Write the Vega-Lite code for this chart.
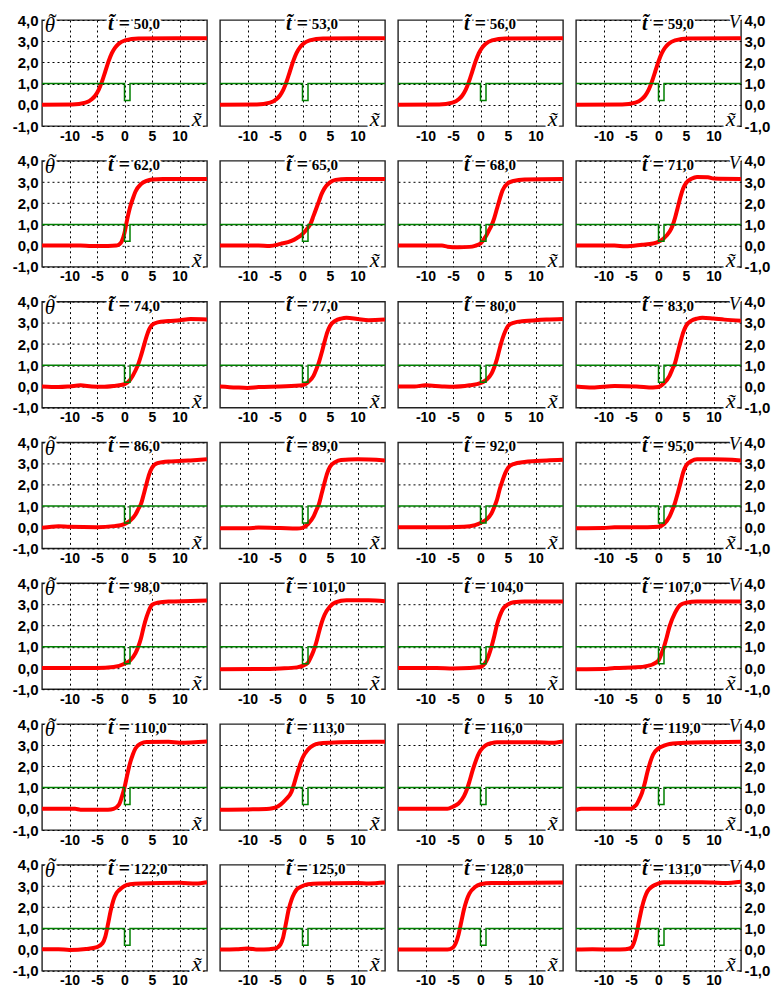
{
  "$schema": "https://vega.github.io/schema/vega-lite/v6.json",
  "background": "white",
  "padding": {"left": 12, "top": 9, "right": 5, "bottom": 0},
  "config": {
    "locale": {"number": {"decimal": ",", "thousands": " ", "grouping": [3], "currency": ["", ""], "minus": "-"}},
    "view": {"stroke": "#222222", "strokeWidth": 1.4},
    "axis": {
      "grid": true, "gridColor": "#000000", "gridDash": [2, 3], "gridWidth": 1, "gridOpacity": 1,
      "domain": false, "ticks": false, "title": null, "labelOverlap": false, "labelFlush": false, "tickCount": 12,
      "labelFont": "Liberation Sans", "labelFontWeight": "bold", "labelFontSize": 14, "labelColor": "#000000"
    }
  },
  "datasets": {
    "profiles": [
      {"t":50,"s":"theta","x":-15,"y":0},{"t":50,"s":"theta","x":-9.5,"y":0.01},{"t":50,"s":"theta","x":-7.1,"y":0.1},{"t":50,"s":"theta","x":-5.9,"y":0.27},{"t":50,"s":"theta","x":-5.3,"y":0.44},{"t":50,"s":"theta","x":-4.7,"y":0.7},{"t":50,"s":"theta","x":-4.1,"y":1.09},{"t":50,"s":"theta","x":-3.5,"y":1.57},{"t":50,"s":"theta","x":-2.9,"y":2.05},{"t":50,"s":"theta","x":-2.3,"y":2.44},{"t":50,"s":"theta","x":-1.7,"y":2.7},{"t":50,"s":"theta","x":-1.1,"y":2.87},{"t":50,"s":"theta","x":0.1,"y":3.04},{"t":50,"s":"theta","x":2.5,"y":3.13},{"t":50,"s":"theta","x":15,"y":3.14},
      {"t":53,"s":"theta","x":-15,"y":0},{"t":53,"s":"theta","x":-8.3,"y":0.01},{"t":53,"s":"theta","x":-5.9,"y":0.1},{"t":53,"s":"theta","x":-4.7,"y":0.27},{"t":53,"s":"theta","x":-4.1,"y":0.44},{"t":53,"s":"theta","x":-3.5,"y":0.7},{"t":53,"s":"theta","x":-2.9,"y":1.09},{"t":53,"s":"theta","x":-2.3,"y":1.57},{"t":53,"s":"theta","x":-1.7,"y":2.05},{"t":53,"s":"theta","x":-1.1,"y":2.44},{"t":53,"s":"theta","x":-0.5,"y":2.7},{"t":53,"s":"theta","x":0.1,"y":2.87},{"t":53,"s":"theta","x":1.3,"y":3.04},{"t":53,"s":"theta","x":3.7,"y":3.13},{"t":53,"s":"theta","x":15,"y":3.14},
      {"t":56,"s":"theta","x":-15,"y":0},{"t":56,"s":"theta","x":-7.5,"y":0.01},{"t":56,"s":"theta","x":-5.1,"y":0.1},{"t":56,"s":"theta","x":-3.9,"y":0.27},{"t":56,"s":"theta","x":-3.3,"y":0.44},{"t":56,"s":"theta","x":-2.7,"y":0.7},{"t":56,"s":"theta","x":-2.1,"y":1.09},{"t":56,"s":"theta","x":-1.5,"y":1.57},{"t":56,"s":"theta","x":-0.9,"y":2.05},{"t":56,"s":"theta","x":-0.3,"y":2.44},{"t":56,"s":"theta","x":0.3,"y":2.7},{"t":56,"s":"theta","x":0.9,"y":2.87},{"t":56,"s":"theta","x":2.1,"y":3.04},{"t":56,"s":"theta","x":4.5,"y":3.13},{"t":56,"s":"theta","x":15,"y":3.14},
      {"t":59,"s":"theta","x":-15,"y":0},{"t":59,"s":"theta","x":-6.6,"y":0.01},{"t":59,"s":"theta","x":-4.2,"y":0.1},{"t":59,"s":"theta","x":-3.0,"y":0.27},{"t":59,"s":"theta","x":-2.4,"y":0.44},{"t":59,"s":"theta","x":-1.8,"y":0.7},{"t":59,"s":"theta","x":-1.2,"y":1.09},{"t":59,"s":"theta","x":-0.6,"y":1.57},{"t":59,"s":"theta","x":0,"y":2.05},{"t":59,"s":"theta","x":0.6,"y":2.44},{"t":59,"s":"theta","x":1.2,"y":2.7},{"t":59,"s":"theta","x":1.8,"y":2.87},{"t":59,"s":"theta","x":3.0,"y":3.04},{"t":59,"s":"theta","x":5.4,"y":3.13},{"t":59,"s":"theta","x":15,"y":3.14},
      {"t":62,"s":"theta","x":-15,"y":0},{"t":62,"s":"theta","x":-8,"y":0},{"t":62,"s":"theta","x":-6,"y":-0.02},{"t":62,"s":"theta","x":-3,"y":-0.02},{"t":62,"s":"theta","x":-1.5,"y":0},{"t":62,"s":"theta","x":-1,"y":0.05},{"t":62,"s":"theta","x":-0.5,"y":0.2},{"t":62,"s":"theta","x":0,"y":0.6},{"t":62,"s":"theta","x":0.5,"y":1.25},{"t":62,"s":"theta","x":1,"y":1.8},{"t":62,"s":"theta","x":1.5,"y":2.2},{"t":62,"s":"theta","x":2,"y":2.55},{"t":62,"s":"theta","x":3,"y":2.9},{"t":62,"s":"theta","x":4,"y":3.05},{"t":62,"s":"theta","x":5,"y":3.12},{"t":62,"s":"theta","x":7,"y":3.14},{"t":62,"s":"theta","x":15,"y":3.14},
      {"t":65,"s":"theta","x":-15,"y":0},{"t":65,"s":"theta","x":-8,"y":0},{"t":65,"s":"theta","x":-6,"y":-0.02},{"t":65,"s":"theta","x":-4,"y":0.08},{"t":65,"s":"theta","x":-2,"y":0.22},{"t":65,"s":"theta","x":-1,"y":0.36},{"t":65,"s":"theta","x":0,"y":0.55},{"t":65,"s":"theta","x":1,"y":0.85},{"t":65,"s":"theta","x":1.5,"y":1.05},{"t":65,"s":"theta","x":2,"y":1.4},{"t":65,"s":"theta","x":2.5,"y":1.75},{"t":65,"s":"theta","x":3,"y":2.1},{"t":65,"s":"theta","x":3.5,"y":2.45},{"t":65,"s":"theta","x":4,"y":2.7},{"t":65,"s":"theta","x":5,"y":2.98},{"t":65,"s":"theta","x":6,"y":3.1},{"t":65,"s":"theta","x":8,"y":3.14},{"t":65,"s":"theta","x":15,"y":3.14},
      {"t":68,"s":"theta","x":-15,"y":0},{"t":68,"s":"theta","x":-7,"y":0},{"t":68,"s":"theta","x":-6,"y":-0.05},{"t":68,"s":"theta","x":-4,"y":-0.08},{"t":68,"s":"theta","x":-2,"y":-0.06},{"t":68,"s":"theta","x":-1,"y":-0.01},{"t":68,"s":"theta","x":0,"y":0.1},{"t":68,"s":"theta","x":1,"y":0.45},{"t":68,"s":"theta","x":1.5,"y":0.7},{"t":68,"s":"theta","x":2,"y":0.95},{"t":68,"s":"theta","x":2.5,"y":1.3},{"t":68,"s":"theta","x":3,"y":1.75},{"t":68,"s":"theta","x":3.5,"y":2.2},{"t":68,"s":"theta","x":4,"y":2.6},{"t":68,"s":"theta","x":5,"y":2.95},{"t":68,"s":"theta","x":6,"y":3.05},{"t":68,"s":"theta","x":8,"y":3.12},{"t":68,"s":"theta","x":15,"y":3.14},
      {"t":71,"s":"theta","x":-15,"y":0},{"t":71,"s":"theta","x":-8,"y":0},{"t":71,"s":"theta","x":-6,"y":-0.03},{"t":71,"s":"theta","x":-3,"y":0.04},{"t":71,"s":"theta","x":-1,"y":0.1},{"t":71,"s":"theta","x":0,"y":0.18},{"t":71,"s":"theta","x":1,"y":0.35},{"t":71,"s":"theta","x":2,"y":0.65},{"t":71,"s":"theta","x":2.5,"y":0.9},{"t":71,"s":"theta","x":3,"y":1.3},{"t":71,"s":"theta","x":3.5,"y":1.8},{"t":71,"s":"theta","x":4,"y":2.3},{"t":71,"s":"theta","x":4.5,"y":2.7},{"t":71,"s":"theta","x":5,"y":2.95},{"t":71,"s":"theta","x":6,"y":3.15},{"t":71,"s":"theta","x":7,"y":3.24},{"t":71,"s":"theta","x":9,"y":3.22},{"t":71,"s":"theta","x":10,"y":3.16},{"t":71,"s":"theta","x":15,"y":3.14},
      {"t":74,"s":"theta","x":-15,"y":0},{"t":74,"s":"theta","x":-12,"y":-0.03},{"t":74,"s":"theta","x":-10,"y":0},{"t":74,"s":"theta","x":-8,"y":0.05},{"t":74,"s":"theta","x":-6,"y":0},{"t":74,"s":"theta","x":-4,"y":-0.02},{"t":74,"s":"theta","x":-2,"y":0.02},{"t":74,"s":"theta","x":0,"y":0.1},{"t":74,"s":"theta","x":1,"y":0.3},{"t":74,"s":"theta","x":2,"y":0.75},{"t":74,"s":"theta","x":2.5,"y":1.05},{"t":74,"s":"theta","x":3,"y":1.45},{"t":74,"s":"theta","x":3.5,"y":1.9},{"t":74,"s":"theta","x":4,"y":2.35},{"t":74,"s":"theta","x":4.5,"y":2.7},{"t":74,"s":"theta","x":5,"y":2.9},{"t":74,"s":"theta","x":6,"y":3.02},{"t":74,"s":"theta","x":8,"y":3.08},{"t":74,"s":"theta","x":10,"y":3.12},{"t":74,"s":"theta","x":12,"y":3.18},{"t":74,"s":"theta","x":15,"y":3.16},
      {"t":77,"s":"theta","x":-15,"y":0},{"t":77,"s":"theta","x":-12,"y":-0.05},{"t":77,"s":"theta","x":-10,"y":-0.07},{"t":77,"s":"theta","x":-8,"y":-0.03},{"t":77,"s":"theta","x":-4,"y":0},{"t":77,"s":"theta","x":0,"y":0.05},{"t":77,"s":"theta","x":1,"y":0.2},{"t":77,"s":"theta","x":2,"y":0.5},{"t":77,"s":"theta","x":2.5,"y":0.8},{"t":77,"s":"theta","x":3,"y":1.15},{"t":77,"s":"theta","x":3.5,"y":1.6},{"t":77,"s":"theta","x":4,"y":2.1},{"t":77,"s":"theta","x":4.5,"y":2.55},{"t":77,"s":"theta","x":5,"y":2.85},{"t":77,"s":"theta","x":6,"y":3.1},{"t":77,"s":"theta","x":7,"y":3.2},{"t":77,"s":"theta","x":8,"y":3.24},{"t":77,"s":"theta","x":10,"y":3.18},{"t":77,"s":"theta","x":12,"y":3.12},{"t":77,"s":"theta","x":15,"y":3.15},
      {"t":80,"s":"theta","x":-15,"y":0},{"t":80,"s":"theta","x":-12,"y":0},{"t":80,"s":"theta","x":-10,"y":0.05},{"t":80,"s":"theta","x":-7,"y":0},{"t":80,"s":"theta","x":-5,"y":-0.02},{"t":80,"s":"theta","x":-2,"y":0.05},{"t":80,"s":"theta","x":0,"y":0.15},{"t":80,"s":"theta","x":1,"y":0.3},{"t":80,"s":"theta","x":2,"y":0.6},{"t":80,"s":"theta","x":2.5,"y":0.9},{"t":80,"s":"theta","x":3,"y":1.3},{"t":80,"s":"theta","x":3.5,"y":1.8},{"t":80,"s":"theta","x":4,"y":2.25},{"t":80,"s":"theta","x":4.5,"y":2.6},{"t":80,"s":"theta","x":5,"y":2.85},{"t":80,"s":"theta","x":6,"y":3.0},{"t":80,"s":"theta","x":8,"y":3.08},{"t":80,"s":"theta","x":10,"y":3.12},{"t":80,"s":"theta","x":12,"y":3.15},{"t":80,"s":"theta","x":15,"y":3.18},
      {"t":83,"s":"theta","x":-15,"y":0},{"t":83,"s":"theta","x":-12,"y":-0.05},{"t":83,"s":"theta","x":-8,"y":0.02},{"t":83,"s":"theta","x":-4,"y":0},{"t":83,"s":"theta","x":-1,"y":-0.05},{"t":83,"s":"theta","x":0,"y":-0.03},{"t":83,"s":"theta","x":1,"y":0.15},{"t":83,"s":"theta","x":2,"y":0.5},{"t":83,"s":"theta","x":2.5,"y":0.8},{"t":83,"s":"theta","x":3,"y":1.1},{"t":83,"s":"theta","x":3.5,"y":1.6},{"t":83,"s":"theta","x":4,"y":2.1},{"t":83,"s":"theta","x":4.5,"y":2.55},{"t":83,"s":"theta","x":5,"y":2.85},{"t":83,"s":"theta","x":6,"y":3.1},{"t":83,"s":"theta","x":7,"y":3.2},{"t":83,"s":"theta","x":8,"y":3.24},{"t":83,"s":"theta","x":10,"y":3.2},{"t":83,"s":"theta","x":12,"y":3.15},{"t":83,"s":"theta","x":15,"y":3.1},
      {"t":86,"s":"theta","x":-15,"y":-0.03},{"t":86,"s":"theta","x":-12,"y":0.05},{"t":86,"s":"theta","x":-10,"y":0.02},{"t":86,"s":"theta","x":-5,"y":0},{"t":86,"s":"theta","x":-2,"y":0.05},{"t":86,"s":"theta","x":0,"y":0.15},{"t":86,"s":"theta","x":1,"y":0.3},{"t":86,"s":"theta","x":2,"y":0.6},{"t":86,"s":"theta","x":2.5,"y":0.85},{"t":86,"s":"theta","x":3,"y":1.1},{"t":86,"s":"theta","x":3.5,"y":1.55},{"t":86,"s":"theta","x":4,"y":2.05},{"t":86,"s":"theta","x":4.5,"y":2.5},{"t":86,"s":"theta","x":5,"y":2.8},{"t":86,"s":"theta","x":6,"y":3.02},{"t":86,"s":"theta","x":8,"y":3.1},{"t":86,"s":"theta","x":10,"y":3.12},{"t":86,"s":"theta","x":12,"y":3.15},{"t":86,"s":"theta","x":15,"y":3.2},
      {"t":89,"s":"theta","x":-15,"y":-0.05},{"t":89,"s":"theta","x":-10,"y":-0.05},{"t":89,"s":"theta","x":-8,"y":-0.02},{"t":89,"s":"theta","x":-4,"y":-0.04},{"t":89,"s":"theta","x":-1,"y":-0.06},{"t":89,"s":"theta","x":0,"y":-0.03},{"t":89,"s":"theta","x":1,"y":0.15},{"t":89,"s":"theta","x":2,"y":0.5},{"t":89,"s":"theta","x":2.5,"y":0.8},{"t":89,"s":"theta","x":3,"y":1.1},{"t":89,"s":"theta","x":3.5,"y":1.6},{"t":89,"s":"theta","x":4,"y":2.1},{"t":89,"s":"theta","x":4.5,"y":2.55},{"t":89,"s":"theta","x":5,"y":2.85},{"t":89,"s":"theta","x":6,"y":3.08},{"t":89,"s":"theta","x":7,"y":3.17},{"t":89,"s":"theta","x":10,"y":3.2},{"t":89,"s":"theta","x":15,"y":3.15},
      {"t":92,"s":"theta","x":-15,"y":0},{"t":92,"s":"theta","x":-6,"y":0},{"t":92,"s":"theta","x":-3,"y":0.02},{"t":92,"s":"theta","x":-1,"y":0.1},{"t":92,"s":"theta","x":0,"y":0.2},{"t":92,"s":"theta","x":1,"y":0.35},{"t":92,"s":"theta","x":2,"y":0.65},{"t":92,"s":"theta","x":2.5,"y":0.95},{"t":92,"s":"theta","x":3,"y":1.3},{"t":92,"s":"theta","x":3.5,"y":1.8},{"t":92,"s":"theta","x":4,"y":2.2},{"t":92,"s":"theta","x":4.5,"y":2.55},{"t":92,"s":"theta","x":5,"y":2.8},{"t":92,"s":"theta","x":6,"y":2.98},{"t":92,"s":"theta","x":8,"y":3.08},{"t":92,"s":"theta","x":10,"y":3.12},{"t":92,"s":"theta","x":12,"y":3.15},{"t":92,"s":"theta","x":15,"y":3.18},
      {"t":95,"s":"theta","x":-15,"y":-0.05},{"t":95,"s":"theta","x":-10,"y":-0.04},{"t":95,"s":"theta","x":-8,"y":0},{"t":95,"s":"theta","x":-2,"y":0},{"t":95,"s":"theta","x":0,"y":0.02},{"t":95,"s":"theta","x":1,"y":0.15},{"t":95,"s":"theta","x":2,"y":0.5},{"t":95,"s":"theta","x":2.5,"y":0.8},{"t":95,"s":"theta","x":3,"y":1.15},{"t":95,"s":"theta","x":3.5,"y":1.6},{"t":95,"s":"theta","x":4,"y":2.1},{"t":95,"s":"theta","x":4.5,"y":2.6},{"t":95,"s":"theta","x":5,"y":2.9},{"t":95,"s":"theta","x":6,"y":3.12},{"t":95,"s":"theta","x":7,"y":3.2},{"t":95,"s":"theta","x":10,"y":3.2},{"t":95,"s":"theta","x":15,"y":3.15},
      {"t":98,"s":"theta","x":-15,"y":0},{"t":98,"s":"theta","x":-5,"y":0},{"t":98,"s":"theta","x":-2,"y":0.05},{"t":98,"s":"theta","x":0,"y":0.2},{"t":98,"s":"theta","x":1,"y":0.35},{"t":98,"s":"theta","x":2,"y":0.7},{"t":98,"s":"theta","x":2.5,"y":1.0},{"t":98,"s":"theta","x":3,"y":1.4},{"t":98,"s":"theta","x":3.5,"y":1.95},{"t":98,"s":"theta","x":4,"y":2.4},{"t":98,"s":"theta","x":4.5,"y":2.75},{"t":98,"s":"theta","x":5,"y":2.98},{"t":98,"s":"theta","x":6,"y":3.08},{"t":98,"s":"theta","x":8,"y":3.14},{"t":98,"s":"theta","x":12,"y":3.16},{"t":98,"s":"theta","x":15,"y":3.18},
      {"t":101,"s":"theta","x":-15,"y":-0.06},{"t":101,"s":"theta","x":-8,"y":-0.05},{"t":101,"s":"theta","x":-4,"y":-0.02},{"t":101,"s":"theta","x":-1,"y":0.03},{"t":101,"s":"theta","x":0,"y":0.1},{"t":101,"s":"theta","x":1,"y":0.25},{"t":101,"s":"theta","x":1.5,"y":0.5},{"t":101,"s":"theta","x":2,"y":0.8},{"t":101,"s":"theta","x":2.5,"y":1.2},{"t":101,"s":"theta","x":3,"y":1.7},{"t":101,"s":"theta","x":3.5,"y":2.15},{"t":101,"s":"theta","x":4,"y":2.5},{"t":101,"s":"theta","x":5,"y":2.9},{"t":101,"s":"theta","x":6,"y":3.1},{"t":101,"s":"theta","x":8,"y":3.2},{"t":101,"s":"theta","x":12,"y":3.2},{"t":101,"s":"theta","x":15,"y":3.15},
      {"t":104,"s":"theta","x":-15,"y":0},{"t":104,"s":"theta","x":-8,"y":0},{"t":104,"s":"theta","x":-5,"y":-0.02},{"t":104,"s":"theta","x":-2,"y":0},{"t":104,"s":"theta","x":0,"y":0.05},{"t":104,"s":"theta","x":1,"y":0.3},{"t":104,"s":"theta","x":1.5,"y":0.6},{"t":104,"s":"theta","x":2,"y":1.0},{"t":104,"s":"theta","x":2.5,"y":1.5},{"t":104,"s":"theta","x":3,"y":2.05},{"t":104,"s":"theta","x":3.5,"y":2.45},{"t":104,"s":"theta","x":4,"y":2.75},{"t":104,"s":"theta","x":5,"y":3.0},{"t":104,"s":"theta","x":6,"y":3.1},{"t":104,"s":"theta","x":8,"y":3.14},{"t":104,"s":"theta","x":15,"y":3.14},
      {"t":107,"s":"theta","x":-15,"y":-0.06},{"t":107,"s":"theta","x":-10,"y":-0.05},{"t":107,"s":"theta","x":-8,"y":0},{"t":107,"s":"theta","x":-4,"y":0.03},{"t":107,"s":"theta","x":-2,"y":0.1},{"t":107,"s":"theta","x":-1,"y":0.18},{"t":107,"s":"theta","x":0,"y":0.35},{"t":107,"s":"theta","x":0.5,"y":0.65},{"t":107,"s":"theta","x":1,"y":1.0},{"t":107,"s":"theta","x":1.5,"y":1.45},{"t":107,"s":"theta","x":2,"y":1.95},{"t":107,"s":"theta","x":3,"y":2.6},{"t":107,"s":"theta","x":4,"y":2.98},{"t":107,"s":"theta","x":5,"y":3.08},{"t":107,"s":"theta","x":7,"y":3.14},{"t":107,"s":"theta","x":15,"y":3.14},
      {"t":110,"s":"theta","x":-15,"y":0},{"t":110,"s":"theta","x":-9,"y":0},{"t":110,"s":"theta","x":-8,"y":-0.04},{"t":110,"s":"theta","x":-3,"y":-0.04},{"t":110,"s":"theta","x":-2,"y":0},{"t":110,"s":"theta","x":-1,"y":0.2},{"t":110,"s":"theta","x":-0.5,"y":0.55},{"t":110,"s":"theta","x":0,"y":1.0},{"t":110,"s":"theta","x":0.5,"y":1.6},{"t":110,"s":"theta","x":1,"y":2.15},{"t":110,"s":"theta","x":1.5,"y":2.55},{"t":110,"s":"theta","x":2,"y":2.85},{"t":110,"s":"theta","x":3,"y":3.08},{"t":110,"s":"theta","x":4,"y":3.15},{"t":110,"s":"theta","x":8,"y":3.16},{"t":110,"s":"theta","x":10,"y":3.12},{"t":110,"s":"theta","x":15,"y":3.18},
      {"t":113,"s":"theta","x":-15,"y":-0.05},{"t":113,"s":"theta","x":-10,"y":-0.03},{"t":113,"s":"theta","x":-6,"y":0},{"t":113,"s":"theta","x":-5,"y":0.05},{"t":113,"s":"theta","x":-4,"y":0.2},{"t":113,"s":"theta","x":-3,"y":0.45},{"t":113,"s":"theta","x":-2,"y":0.8},{"t":113,"s":"theta","x":-1.5,"y":1.2},{"t":113,"s":"theta","x":-1,"y":1.65},{"t":113,"s":"theta","x":-0.5,"y":2.05},{"t":113,"s":"theta","x":0,"y":2.4},{"t":113,"s":"theta","x":1,"y":2.8},{"t":113,"s":"theta","x":2,"y":3.0},{"t":113,"s":"theta","x":3,"y":3.08},{"t":113,"s":"theta","x":5,"y":3.12},{"t":113,"s":"theta","x":10,"y":3.15},{"t":113,"s":"theta","x":15,"y":3.16},
      {"t":116,"s":"theta","x":-15,"y":0},{"t":116,"s":"theta","x":-6,"y":0},{"t":116,"s":"theta","x":-5,"y":0.1},{"t":116,"s":"theta","x":-4,"y":0.25},{"t":116,"s":"theta","x":-3,"y":0.6},{"t":116,"s":"theta","x":-2.5,"y":0.9},{"t":116,"s":"theta","x":-2,"y":1.3},{"t":116,"s":"theta","x":-1.5,"y":1.75},{"t":116,"s":"theta","x":-1,"y":2.15},{"t":116,"s":"theta","x":-0.5,"y":2.5},{"t":116,"s":"theta","x":0,"y":2.75},{"t":116,"s":"theta","x":1,"y":3.0},{"t":116,"s":"theta","x":2,"y":3.1},{"t":116,"s":"theta","x":3,"y":3.14},{"t":116,"s":"theta","x":10,"y":3.14},{"t":116,"s":"theta","x":13,"y":3.12},{"t":116,"s":"theta","x":15,"y":3.18},
      {"t":119,"s":"theta","x":-15,"y":-0.06},{"t":119,"s":"theta","x":-14,"y":0},{"t":119,"s":"theta","x":-5,"y":0},{"t":119,"s":"theta","x":-4.5,"y":0.08},{"t":119,"s":"theta","x":-4,"y":0.2},{"t":119,"s":"theta","x":-3.5,"y":0.45},{"t":119,"s":"theta","x":-3,"y":0.75},{"t":119,"s":"theta","x":-2.5,"y":1.2},{"t":119,"s":"theta","x":-2,"y":1.75},{"t":119,"s":"theta","x":-1.5,"y":2.2},{"t":119,"s":"theta","x":-1,"y":2.55},{"t":119,"s":"theta","x":0,"y":2.85},{"t":119,"s":"theta","x":1,"y":2.98},{"t":119,"s":"theta","x":2,"y":3.06},{"t":119,"s":"theta","x":5,"y":3.12},{"t":119,"s":"theta","x":10,"y":3.14},{"t":119,"s":"theta","x":15,"y":3.16},
      {"t":122,"s":"theta","x":-15,"y":0.02},{"t":122,"s":"theta","x":-12,"y":0.02},{"t":122,"s":"theta","x":-10,"y":-0.02},{"t":122,"s":"theta","x":-7,"y":0.03},{"t":122,"s":"theta","x":-5,"y":0.12},{"t":122,"s":"theta","x":-4,"y":0.3},{"t":122,"s":"theta","x":-3.5,"y":0.6},{"t":122,"s":"theta","x":-3,"y":1.2},{"t":122,"s":"theta","x":-2.5,"y":1.85},{"t":122,"s":"theta","x":-2,"y":2.35},{"t":122,"s":"theta","x":-1.5,"y":2.65},{"t":122,"s":"theta","x":-1,"y":2.8},{"t":122,"s":"theta","x":0,"y":3.0},{"t":122,"s":"theta","x":1,"y":3.08},{"t":122,"s":"theta","x":3,"y":3.12},{"t":122,"s":"theta","x":10,"y":3.15},{"t":122,"s":"theta","x":13,"y":3.12},{"t":122,"s":"theta","x":15,"y":3.18},
      {"t":125,"s":"theta","x":-15,"y":0},{"t":125,"s":"theta","x":-12,"y":0.02},{"t":125,"s":"theta","x":-10,"y":0.05},{"t":125,"s":"theta","x":-8,"y":0},{"t":125,"s":"theta","x":-6,"y":0.02},{"t":125,"s":"theta","x":-5,"y":0.05},{"t":125,"s":"theta","x":-4,"y":0.25},{"t":125,"s":"theta","x":-3.5,"y":0.6},{"t":125,"s":"theta","x":-3,"y":1.25},{"t":125,"s":"theta","x":-2.5,"y":1.9},{"t":125,"s":"theta","x":-2,"y":2.35},{"t":125,"s":"theta","x":-1.5,"y":2.65},{"t":125,"s":"theta","x":-1,"y":2.85},{"t":125,"s":"theta","x":0,"y":3.0},{"t":125,"s":"theta","x":1,"y":3.08},{"t":125,"s":"theta","x":3,"y":3.12},{"t":125,"s":"theta","x":10,"y":3.14},{"t":125,"s":"theta","x":12,"y":3.12},{"t":125,"s":"theta","x":15,"y":3.16},
      {"t":128,"s":"theta","x":-15,"y":0},{"t":128,"s":"theta","x":-6,"y":0},{"t":128,"s":"theta","x":-5,"y":0.1},{"t":128,"s":"theta","x":-4.5,"y":0.3},{"t":128,"s":"theta","x":-4,"y":0.7},{"t":128,"s":"theta","x":-3.5,"y":1.3},{"t":128,"s":"theta","x":-3,"y":1.9},{"t":128,"s":"theta","x":-2.5,"y":2.35},{"t":128,"s":"theta","x":-2,"y":2.65},{"t":128,"s":"theta","x":-1,"y":2.95},{"t":128,"s":"theta","x":0,"y":3.08},{"t":128,"s":"theta","x":2,"y":3.14},{"t":128,"s":"theta","x":15,"y":3.16},
      {"t":131,"s":"theta","x":-15,"y":0},{"t":131,"s":"theta","x":-12,"y":0.02},{"t":131,"s":"theta","x":-8,"y":0},{"t":131,"s":"theta","x":-6,"y":0.02},{"t":131,"s":"theta","x":-5,"y":0.08},{"t":131,"s":"theta","x":-4.5,"y":0.3},{"t":131,"s":"theta","x":-4,"y":0.75},{"t":131,"s":"theta","x":-3.5,"y":1.4},{"t":131,"s":"theta","x":-3,"y":2.0},{"t":131,"s":"theta","x":-2.5,"y":2.45},{"t":131,"s":"theta","x":-2,"y":2.75},{"t":131,"s":"theta","x":-1,"y":3.0},{"t":131,"s":"theta","x":0,"y":3.12},{"t":131,"s":"theta","x":1,"y":3.18},{"t":131,"s":"theta","x":8,"y":3.18},{"t":131,"s":"theta","x":12,"y":3.14},{"t":131,"s":"theta","x":15,"y":3.2},
      {"t":50,"s":"V","x":-15,"y":1},{"t":50,"s":"V","x":0,"y":1},{"t":50,"s":"V","x":0,"y":0.2},{"t":50,"s":"V","x":1,"y":0.2},{"t":50,"s":"V","x":1,"y":1},{"t":50,"s":"V","x":15,"y":1},
      {"t":53,"s":"V","x":-15,"y":1},{"t":53,"s":"V","x":0,"y":1},{"t":53,"s":"V","x":0,"y":0.2},{"t":53,"s":"V","x":1,"y":0.2},{"t":53,"s":"V","x":1,"y":1},{"t":53,"s":"V","x":15,"y":1},
      {"t":56,"s":"V","x":-15,"y":1},{"t":56,"s":"V","x":0,"y":1},{"t":56,"s":"V","x":0,"y":0.2},{"t":56,"s":"V","x":1,"y":0.2},{"t":56,"s":"V","x":1,"y":1},{"t":56,"s":"V","x":15,"y":1},
      {"t":59,"s":"V","x":-15,"y":1},{"t":59,"s":"V","x":0,"y":1},{"t":59,"s":"V","x":0,"y":0.2},{"t":59,"s":"V","x":1,"y":0.2},{"t":59,"s":"V","x":1,"y":1},{"t":59,"s":"V","x":15,"y":1},
      {"t":62,"s":"V","x":-15,"y":1},{"t":62,"s":"V","x":0,"y":1},{"t":62,"s":"V","x":0,"y":0.2},{"t":62,"s":"V","x":1,"y":0.2},{"t":62,"s":"V","x":1,"y":1},{"t":62,"s":"V","x":15,"y":1},
      {"t":65,"s":"V","x":-15,"y":1},{"t":65,"s":"V","x":0,"y":1},{"t":65,"s":"V","x":0,"y":0.2},{"t":65,"s":"V","x":1,"y":0.2},{"t":65,"s":"V","x":1,"y":1},{"t":65,"s":"V","x":15,"y":1},
      {"t":68,"s":"V","x":-15,"y":1},{"t":68,"s":"V","x":0,"y":1},{"t":68,"s":"V","x":0,"y":0.2},{"t":68,"s":"V","x":1,"y":0.2},{"t":68,"s":"V","x":1,"y":1},{"t":68,"s":"V","x":15,"y":1},
      {"t":71,"s":"V","x":-15,"y":1},{"t":71,"s":"V","x":0,"y":1},{"t":71,"s":"V","x":0,"y":0.2},{"t":71,"s":"V","x":1,"y":0.2},{"t":71,"s":"V","x":1,"y":1},{"t":71,"s":"V","x":15,"y":1},
      {"t":74,"s":"V","x":-15,"y":1},{"t":74,"s":"V","x":0,"y":1},{"t":74,"s":"V","x":0,"y":0.2},{"t":74,"s":"V","x":1,"y":0.2},{"t":74,"s":"V","x":1,"y":1},{"t":74,"s":"V","x":15,"y":1},
      {"t":77,"s":"V","x":-15,"y":1},{"t":77,"s":"V","x":0,"y":1},{"t":77,"s":"V","x":0,"y":0.2},{"t":77,"s":"V","x":1,"y":0.2},{"t":77,"s":"V","x":1,"y":1},{"t":77,"s":"V","x":15,"y":1},
      {"t":80,"s":"V","x":-15,"y":1},{"t":80,"s":"V","x":0,"y":1},{"t":80,"s":"V","x":0,"y":0.2},{"t":80,"s":"V","x":1,"y":0.2},{"t":80,"s":"V","x":1,"y":1},{"t":80,"s":"V","x":15,"y":1},
      {"t":83,"s":"V","x":-15,"y":1},{"t":83,"s":"V","x":0,"y":1},{"t":83,"s":"V","x":0,"y":0.2},{"t":83,"s":"V","x":1,"y":0.2},{"t":83,"s":"V","x":1,"y":1},{"t":83,"s":"V","x":15,"y":1},
      {"t":86,"s":"V","x":-15,"y":1},{"t":86,"s":"V","x":0,"y":1},{"t":86,"s":"V","x":0,"y":0.2},{"t":86,"s":"V","x":1,"y":0.2},{"t":86,"s":"V","x":1,"y":1},{"t":86,"s":"V","x":15,"y":1},
      {"t":89,"s":"V","x":-15,"y":1},{"t":89,"s":"V","x":0,"y":1},{"t":89,"s":"V","x":0,"y":0.2},{"t":89,"s":"V","x":1,"y":0.2},{"t":89,"s":"V","x":1,"y":1},{"t":89,"s":"V","x":15,"y":1},
      {"t":92,"s":"V","x":-15,"y":1},{"t":92,"s":"V","x":0,"y":1},{"t":92,"s":"V","x":0,"y":0.2},{"t":92,"s":"V","x":1,"y":0.2},{"t":92,"s":"V","x":1,"y":1},{"t":92,"s":"V","x":15,"y":1},
      {"t":95,"s":"V","x":-15,"y":1},{"t":95,"s":"V","x":0,"y":1},{"t":95,"s":"V","x":0,"y":0.2},{"t":95,"s":"V","x":1,"y":0.2},{"t":95,"s":"V","x":1,"y":1},{"t":95,"s":"V","x":15,"y":1},
      {"t":98,"s":"V","x":-15,"y":1},{"t":98,"s":"V","x":0,"y":1},{"t":98,"s":"V","x":0,"y":0.2},{"t":98,"s":"V","x":1,"y":0.2},{"t":98,"s":"V","x":1,"y":1},{"t":98,"s":"V","x":15,"y":1},
      {"t":101,"s":"V","x":-15,"y":1},{"t":101,"s":"V","x":0,"y":1},{"t":101,"s":"V","x":0,"y":0.2},{"t":101,"s":"V","x":1,"y":0.2},{"t":101,"s":"V","x":1,"y":1},{"t":101,"s":"V","x":15,"y":1},
      {"t":104,"s":"V","x":-15,"y":1},{"t":104,"s":"V","x":0,"y":1},{"t":104,"s":"V","x":0,"y":0.2},{"t":104,"s":"V","x":1,"y":0.2},{"t":104,"s":"V","x":1,"y":1},{"t":104,"s":"V","x":15,"y":1},
      {"t":107,"s":"V","x":-15,"y":1},{"t":107,"s":"V","x":0,"y":1},{"t":107,"s":"V","x":0,"y":0.2},{"t":107,"s":"V","x":1,"y":0.2},{"t":107,"s":"V","x":1,"y":1},{"t":107,"s":"V","x":15,"y":1},
      {"t":110,"s":"V","x":-15,"y":1},{"t":110,"s":"V","x":0,"y":1},{"t":110,"s":"V","x":0,"y":0.2},{"t":110,"s":"V","x":1,"y":0.2},{"t":110,"s":"V","x":1,"y":1},{"t":110,"s":"V","x":15,"y":1},
      {"t":113,"s":"V","x":-15,"y":1},{"t":113,"s":"V","x":0,"y":1},{"t":113,"s":"V","x":0,"y":0.2},{"t":113,"s":"V","x":1,"y":0.2},{"t":113,"s":"V","x":1,"y":1},{"t":113,"s":"V","x":15,"y":1},
      {"t":116,"s":"V","x":-15,"y":1},{"t":116,"s":"V","x":0,"y":1},{"t":116,"s":"V","x":0,"y":0.2},{"t":116,"s":"V","x":1,"y":0.2},{"t":116,"s":"V","x":1,"y":1},{"t":116,"s":"V","x":15,"y":1},
      {"t":119,"s":"V","x":-15,"y":1},{"t":119,"s":"V","x":0,"y":1},{"t":119,"s":"V","x":0,"y":0.2},{"t":119,"s":"V","x":1,"y":0.2},{"t":119,"s":"V","x":1,"y":1},{"t":119,"s":"V","x":15,"y":1},
      {"t":122,"s":"V","x":-15,"y":1},{"t":122,"s":"V","x":0,"y":1},{"t":122,"s":"V","x":0,"y":0.2},{"t":122,"s":"V","x":1,"y":0.2},{"t":122,"s":"V","x":1,"y":1},{"t":122,"s":"V","x":15,"y":1},
      {"t":125,"s":"V","x":-15,"y":1},{"t":125,"s":"V","x":0,"y":1},{"t":125,"s":"V","x":0,"y":0.2},{"t":125,"s":"V","x":1,"y":0.2},{"t":125,"s":"V","x":1,"y":1},{"t":125,"s":"V","x":15,"y":1},
      {"t":128,"s":"V","x":-15,"y":1},{"t":128,"s":"V","x":0,"y":1},{"t":128,"s":"V","x":0,"y":0.2},{"t":128,"s":"V","x":1,"y":0.2},{"t":128,"s":"V","x":1,"y":1},{"t":128,"s":"V","x":15,"y":1},
      {"t":131,"s":"V","x":-15,"y":1},{"t":131,"s":"V","x":0,"y":1},{"t":131,"s":"V","x":0,"y":0.2},{"t":131,"s":"V","x":1,"y":0.2},{"t":131,"s":"V","x":1,"y":1},{"t":131,"s":"V","x":15,"y":1}
    ]
  },
  "data": {"name": "profiles"},
  "spacing": 11,
  "hconcat": [
    {
      "transform": [{"filter": "(datum.t - 50) % 12 == 0"}],
      "bounds": "flush",
      "spacing": 34.8,
      "facet": {"row": {"field": "t", "type": "ordinal", "title": null, "header": {"labels": false, "title": null}}},
      "resolve": {"axis": {"x": "independent"}},
      "spec": {
        "width": 165, "height": 106,
        "layer": [
          {"transform": [{"filter": "datum.s == 'theta'"}],
           "mark": {"type": "line", "color": "#ff0000", "strokeWidth": 4, "interpolate": "monotone", "clip": true},
           "encoding": {
             "x": {"field": "x", "type": "quantitative", "scale": {"domain": [-15, 15], "nice": false}, "axis": {"values": [-10, -5, 0, 5, 10], "format": "d", "labelPadding": 3, "labelOverlap": false, "tickCount": 12}},
             "y": {"field": "y", "type": "quantitative", "scale": {"domain": [-1, 4], "nice": false}, "axis": {"orient": "left", "values": [-1, 0, 1, 2, 3, 4], "format": ".1f", "labelPadding": 4, "labelFontSize": 15, "labelOverlap": false, "tickCount": 12}}
           }},
          {"transform": [{"filter": "datum.s == 'V'"}],
           "mark": {"type": "line", "color": "#008000", "strokeWidth": 1.5, "clip": true},
           "encoding": {"x": {"field": "x", "type": "quantitative"}, "y": {"field": "y", "type": "quantitative"}, "order": {"value": null}}},
          {"transform": [{"filter": "datum.s == 'V' && datum.x == -15"}],
           "mark": {"type": "text", "text": "t\u0303 =", "font": "Liberation Serif", "fontStyle": "italic", "fontWeight": "bold", "fontSize": 20, "align": "left", "baseline": "alphabetic", "fill": "white", "stroke": "white", "strokeWidth": 4},
           "encoding": {"x": {"datum": -3}, "y": {"datum": 3.54}}},
          {"transform": [{"filter": "datum.s == 'V' && datum.x == -15"}],
           "mark": {"type": "text", "text": "t\u0303 =", "font": "Liberation Serif", "fontStyle": "italic", "fontWeight": "bold", "fontSize": 20, "align": "left", "baseline": "alphabetic", "fill": "black"},
           "encoding": {"x": {"datum": -3}, "y": {"datum": 3.54}}},
          {"transform": [{"filter": "datum.s == 'V' && datum.x == -15"}],
           "mark": {"type": "text", "font": "Liberation Serif", "fontWeight": "bold", "fontSize": 15, "align": "left", "baseline": "alphabetic", "fill": "white", "stroke": "white", "strokeWidth": 4},
           "encoding": {"x": {"datum": 1.7}, "y": {"datum": 3.58}, "text": {"field": "t", "type": "quantitative", "format": ".1f"}}},
          {"transform": [{"filter": "datum.s == 'V' && datum.x == -15"}],
           "mark": {"type": "text", "font": "Liberation Serif", "fontWeight": "bold", "fontSize": 15, "align": "left", "baseline": "alphabetic", "fill": "black"},
           "encoding": {"x": {"datum": 1.7}, "y": {"datum": 3.58}, "text": {"field": "t", "type": "quantitative", "format": ".1f"}}},
          {"transform": [{"filter": "datum.s == 'V' && datum.x == -15"}],
           "mark": {"type": "text", "text": "x\u0303", "font": "Liberation Serif", "fontStyle": "italic", "fontSize": 22, "align": "right", "baseline": "alphabetic", "fill": "white", "stroke": "white", "strokeWidth": 4},
           "encoding": {"x": {"datum": 14}, "y": {"datum": -1.02}}},
          {"transform": [{"filter": "datum.s == 'V' && datum.x == -15"}],
           "mark": {"type": "text", "text": "x\u0303", "font": "Liberation Serif", "fontStyle": "italic", "fontSize": 22, "align": "right", "baseline": "alphabetic", "fill": "black"},
           "encoding": {"x": {"datum": 14}, "y": {"datum": -1.02}}},
          {"transform": [{"filter": "datum.s == 'V' && datum.x == -15"}],
           "mark": {"type": "text", "text": "\u03b8", "font": "Liberation Serif", "fontStyle": "italic", "fontSize": 21, "align": "left", "baseline": "alphabetic", "fill": "white", "stroke": "white", "strokeWidth": 4},
           "encoding": {"x": {"datum": -14.5}, "y": {"datum": 3.42}}},
          {"transform": [{"filter": "datum.s == 'V' && datum.x == -15"}],
           "mark": {"type": "text", "text": "\u03b8", "font": "Liberation Serif", "fontStyle": "italic", "fontSize": 21, "align": "left", "baseline": "alphabetic", "fill": "black"},
           "encoding": {"x": {"datum": -14.5}, "y": {"datum": 3.42}}},
          {"transform": [{"filter": "datum.s == 'V' && datum.x == -15"}],
           "mark": {"type": "text", "text": "\u02dc", "font": "Liberation Serif", "fontSize": 24, "align": "center", "baseline": "alphabetic", "fill": "black"},
           "encoding": {"x": {"datum": -13.1}, "y": {"datum": 3.55}}}
        ]
      }
    },
    {
      "transform": [{"filter": "(datum.t - 50) % 12 == 3"}],
      "bounds": "flush",
      "spacing": 34.8,
      "facet": {"row": {"field": "t", "type": "ordinal", "title": null, "header": {"labels": false, "title": null}}},
      "resolve": {"axis": {"x": "independent"}},
      "spec": {
        "width": 165, "height": 106,
        "layer": [
          {"transform": [{"filter": "datum.s == 'theta'"}],
           "mark": {"type": "line", "color": "#ff0000", "strokeWidth": 4, "interpolate": "monotone", "clip": true},
           "encoding": {
             "x": {"field": "x", "type": "quantitative", "scale": {"domain": [-15, 15], "nice": false}, "axis": {"values": [-10, -5, 0, 5, 10], "format": "d", "labelPadding": 3, "labelOverlap": false, "tickCount": 12}},
             "y": {"field": "y", "type": "quantitative", "scale": {"domain": [-1, 4], "nice": false}, "axis": {"values": [0, 1, 2, 3], "labels": false, "tickCount": 12}}
           }},
          {"transform": [{"filter": "datum.s == 'V'"}],
           "mark": {"type": "line", "color": "#008000", "strokeWidth": 1.5, "clip": true},
           "encoding": {"x": {"field": "x", "type": "quantitative"}, "y": {"field": "y", "type": "quantitative"}, "order": {"value": null}}},
          {"transform": [{"filter": "datum.s == 'V' && datum.x == -15"}],
           "mark": {"type": "text", "text": "t\u0303 =", "font": "Liberation Serif", "fontStyle": "italic", "fontWeight": "bold", "fontSize": 20, "align": "left", "baseline": "alphabetic", "fill": "white", "stroke": "white", "strokeWidth": 4},
           "encoding": {"x": {"datum": -3}, "y": {"datum": 3.54}}},
          {"transform": [{"filter": "datum.s == 'V' && datum.x == -15"}],
           "mark": {"type": "text", "text": "t\u0303 =", "font": "Liberation Serif", "fontStyle": "italic", "fontWeight": "bold", "fontSize": 20, "align": "left", "baseline": "alphabetic", "fill": "black"},
           "encoding": {"x": {"datum": -3}, "y": {"datum": 3.54}}},
          {"transform": [{"filter": "datum.s == 'V' && datum.x == -15"}],
           "mark": {"type": "text", "font": "Liberation Serif", "fontWeight": "bold", "fontSize": 15, "align": "left", "baseline": "alphabetic", "fill": "white", "stroke": "white", "strokeWidth": 4},
           "encoding": {"x": {"datum": 1.7}, "y": {"datum": 3.58}, "text": {"field": "t", "type": "quantitative", "format": ".1f"}}},
          {"transform": [{"filter": "datum.s == 'V' && datum.x == -15"}],
           "mark": {"type": "text", "font": "Liberation Serif", "fontWeight": "bold", "fontSize": 15, "align": "left", "baseline": "alphabetic", "fill": "black"},
           "encoding": {"x": {"datum": 1.7}, "y": {"datum": 3.58}, "text": {"field": "t", "type": "quantitative", "format": ".1f"}}},
          {"transform": [{"filter": "datum.s == 'V' && datum.x == -15"}],
           "mark": {"type": "text", "text": "x\u0303", "font": "Liberation Serif", "fontStyle": "italic", "fontSize": 22, "align": "right", "baseline": "alphabetic", "fill": "white", "stroke": "white", "strokeWidth": 4},
           "encoding": {"x": {"datum": 14}, "y": {"datum": -1.02}}},
          {"transform": [{"filter": "datum.s == 'V' && datum.x == -15"}],
           "mark": {"type": "text", "text": "x\u0303", "font": "Liberation Serif", "fontStyle": "italic", "fontSize": 22, "align": "right", "baseline": "alphabetic", "fill": "black"},
           "encoding": {"x": {"datum": 14}, "y": {"datum": -1.02}}}
        ]
      }
    },
    {
      "transform": [{"filter": "(datum.t - 50) % 12 == 6"}],
      "bounds": "flush",
      "spacing": 34.8,
      "facet": {"row": {"field": "t", "type": "ordinal", "title": null, "header": {"labels": false, "title": null}}},
      "resolve": {"axis": {"x": "independent"}},
      "spec": {
        "width": 165, "height": 106,
        "layer": [
          {"transform": [{"filter": "datum.s == 'theta'"}],
           "mark": {"type": "line", "color": "#ff0000", "strokeWidth": 4, "interpolate": "monotone", "clip": true},
           "encoding": {
             "x": {"field": "x", "type": "quantitative", "scale": {"domain": [-15, 15], "nice": false}, "axis": {"values": [-10, -5, 0, 5, 10], "format": "d", "labelPadding": 3, "labelOverlap": false, "tickCount": 12}},
             "y": {"field": "y", "type": "quantitative", "scale": {"domain": [-1, 4], "nice": false}, "axis": {"values": [0, 1, 2, 3], "labels": false, "tickCount": 12}}
           }},
          {"transform": [{"filter": "datum.s == 'V'"}],
           "mark": {"type": "line", "color": "#008000", "strokeWidth": 1.5, "clip": true},
           "encoding": {"x": {"field": "x", "type": "quantitative"}, "y": {"field": "y", "type": "quantitative"}, "order": {"value": null}}},
          {"transform": [{"filter": "datum.s == 'V' && datum.x == -15"}],
           "mark": {"type": "text", "text": "t\u0303 =", "font": "Liberation Serif", "fontStyle": "italic", "fontWeight": "bold", "fontSize": 20, "align": "left", "baseline": "alphabetic", "fill": "white", "stroke": "white", "strokeWidth": 4},
           "encoding": {"x": {"datum": -3}, "y": {"datum": 3.54}}},
          {"transform": [{"filter": "datum.s == 'V' && datum.x == -15"}],
           "mark": {"type": "text", "text": "t\u0303 =", "font": "Liberation Serif", "fontStyle": "italic", "fontWeight": "bold", "fontSize": 20, "align": "left", "baseline": "alphabetic", "fill": "black"},
           "encoding": {"x": {"datum": -3}, "y": {"datum": 3.54}}},
          {"transform": [{"filter": "datum.s == 'V' && datum.x == -15"}],
           "mark": {"type": "text", "font": "Liberation Serif", "fontWeight": "bold", "fontSize": 15, "align": "left", "baseline": "alphabetic", "fill": "white", "stroke": "white", "strokeWidth": 4},
           "encoding": {"x": {"datum": 1.7}, "y": {"datum": 3.58}, "text": {"field": "t", "type": "quantitative", "format": ".1f"}}},
          {"transform": [{"filter": "datum.s == 'V' && datum.x == -15"}],
           "mark": {"type": "text", "font": "Liberation Serif", "fontWeight": "bold", "fontSize": 15, "align": "left", "baseline": "alphabetic", "fill": "black"},
           "encoding": {"x": {"datum": 1.7}, "y": {"datum": 3.58}, "text": {"field": "t", "type": "quantitative", "format": ".1f"}}},
          {"transform": [{"filter": "datum.s == 'V' && datum.x == -15"}],
           "mark": {"type": "text", "text": "x\u0303", "font": "Liberation Serif", "fontStyle": "italic", "fontSize": 22, "align": "right", "baseline": "alphabetic", "fill": "white", "stroke": "white", "strokeWidth": 4},
           "encoding": {"x": {"datum": 14}, "y": {"datum": -1.02}}},
          {"transform": [{"filter": "datum.s == 'V' && datum.x == -15"}],
           "mark": {"type": "text", "text": "x\u0303", "font": "Liberation Serif", "fontStyle": "italic", "fontSize": 22, "align": "right", "baseline": "alphabetic", "fill": "black"},
           "encoding": {"x": {"datum": 14}, "y": {"datum": -1.02}}}
        ]
      }
    },
    {
      "transform": [{"filter": "(datum.t - 50) % 12 == 9"}],
      "bounds": "flush",
      "spacing": 34.8,
      "facet": {"row": {"field": "t", "type": "ordinal", "title": null, "header": {"labels": false, "title": null}}},
      "resolve": {"axis": {"x": "independent"}},
      "spec": {
        "width": 165, "height": 106,
        "layer": [
          {"transform": [{"filter": "datum.s == 'theta'"}],
           "mark": {"type": "line", "color": "#ff0000", "strokeWidth": 4, "interpolate": "monotone", "clip": true},
           "encoding": {
             "x": {"field": "x", "type": "quantitative", "scale": {"domain": [-15, 15], "nice": false}, "axis": {"values": [-10, -5, 0, 5, 10], "format": "d", "labelPadding": 3, "labelOverlap": false, "tickCount": 12}},
             "y": {"field": "y", "type": "quantitative", "scale": {"domain": [-1, 4], "nice": false}, "axis": {"orient": "right", "values": [-1, 0, 1, 2, 3, 4], "format": ".1f", "labelPadding": 3, "labelFontSize": 15, "labelOverlap": false, "tickCount": 12}}
           }},
          {"transform": [{"filter": "datum.s == 'V'"}],
           "mark": {"type": "line", "color": "#008000", "strokeWidth": 1.5, "clip": true},
           "encoding": {"x": {"field": "x", "type": "quantitative"}, "y": {"field": "y", "type": "quantitative"}, "order": {"value": null}}},
          {"transform": [{"filter": "datum.s == 'V' && datum.x == -15"}],
           "mark": {"type": "text", "text": "t\u0303 =", "font": "Liberation Serif", "fontStyle": "italic", "fontWeight": "bold", "fontSize": 20, "align": "left", "baseline": "alphabetic", "fill": "white", "stroke": "white", "strokeWidth": 4},
           "encoding": {"x": {"datum": -3}, "y": {"datum": 3.54}}},
          {"transform": [{"filter": "datum.s == 'V' && datum.x == -15"}],
           "mark": {"type": "text", "text": "t\u0303 =", "font": "Liberation Serif", "fontStyle": "italic", "fontWeight": "bold", "fontSize": 20, "align": "left", "baseline": "alphabetic", "fill": "black"},
           "encoding": {"x": {"datum": -3}, "y": {"datum": 3.54}}},
          {"transform": [{"filter": "datum.s == 'V' && datum.x == -15"}],
           "mark": {"type": "text", "font": "Liberation Serif", "fontWeight": "bold", "fontSize": 15, "align": "left", "baseline": "alphabetic", "fill": "white", "stroke": "white", "strokeWidth": 4},
           "encoding": {"x": {"datum": 1.7}, "y": {"datum": 3.58}, "text": {"field": "t", "type": "quantitative", "format": ".1f"}}},
          {"transform": [{"filter": "datum.s == 'V' && datum.x == -15"}],
           "mark": {"type": "text", "font": "Liberation Serif", "fontWeight": "bold", "fontSize": 15, "align": "left", "baseline": "alphabetic", "fill": "black"},
           "encoding": {"x": {"datum": 1.7}, "y": {"datum": 3.58}, "text": {"field": "t", "type": "quantitative", "format": ".1f"}}},
          {"transform": [{"filter": "datum.s == 'V' && datum.x == -15"}],
           "mark": {"type": "text", "text": "x\u0303", "font": "Liberation Serif", "fontStyle": "italic", "fontSize": 22, "align": "right", "baseline": "alphabetic", "fill": "white", "stroke": "white", "strokeWidth": 4},
           "encoding": {"x": {"datum": 14}, "y": {"datum": -1.02}}},
          {"transform": [{"filter": "datum.s == 'V' && datum.x == -15"}],
           "mark": {"type": "text", "text": "x\u0303", "font": "Liberation Serif", "fontStyle": "italic", "fontSize": 22, "align": "right", "baseline": "alphabetic", "fill": "black"},
           "encoding": {"x": {"datum": 14}, "y": {"datum": -1.02}}},
          {"transform": [{"filter": "datum.s == 'V' && datum.x == -15"}],
           "mark": {"type": "text", "text": "V", "font": "Liberation Serif", "fontStyle": "italic", "fontSize": 18, "align": "right", "baseline": "alphabetic", "fill": "white", "stroke": "white", "strokeWidth": 4},
           "encoding": {"x": {"datum": 14.8}, "y": {"datum": 3.62}}},
          {"transform": [{"filter": "datum.s == 'V' && datum.x == -15"}],
           "mark": {"type": "text", "text": "V", "font": "Liberation Serif", "fontStyle": "italic", "fontSize": 18, "align": "right", "baseline": "alphabetic", "fill": "black"},
           "encoding": {"x": {"datum": 14.8}, "y": {"datum": 3.62}}}
        ]
      }
    }
  ]
}
